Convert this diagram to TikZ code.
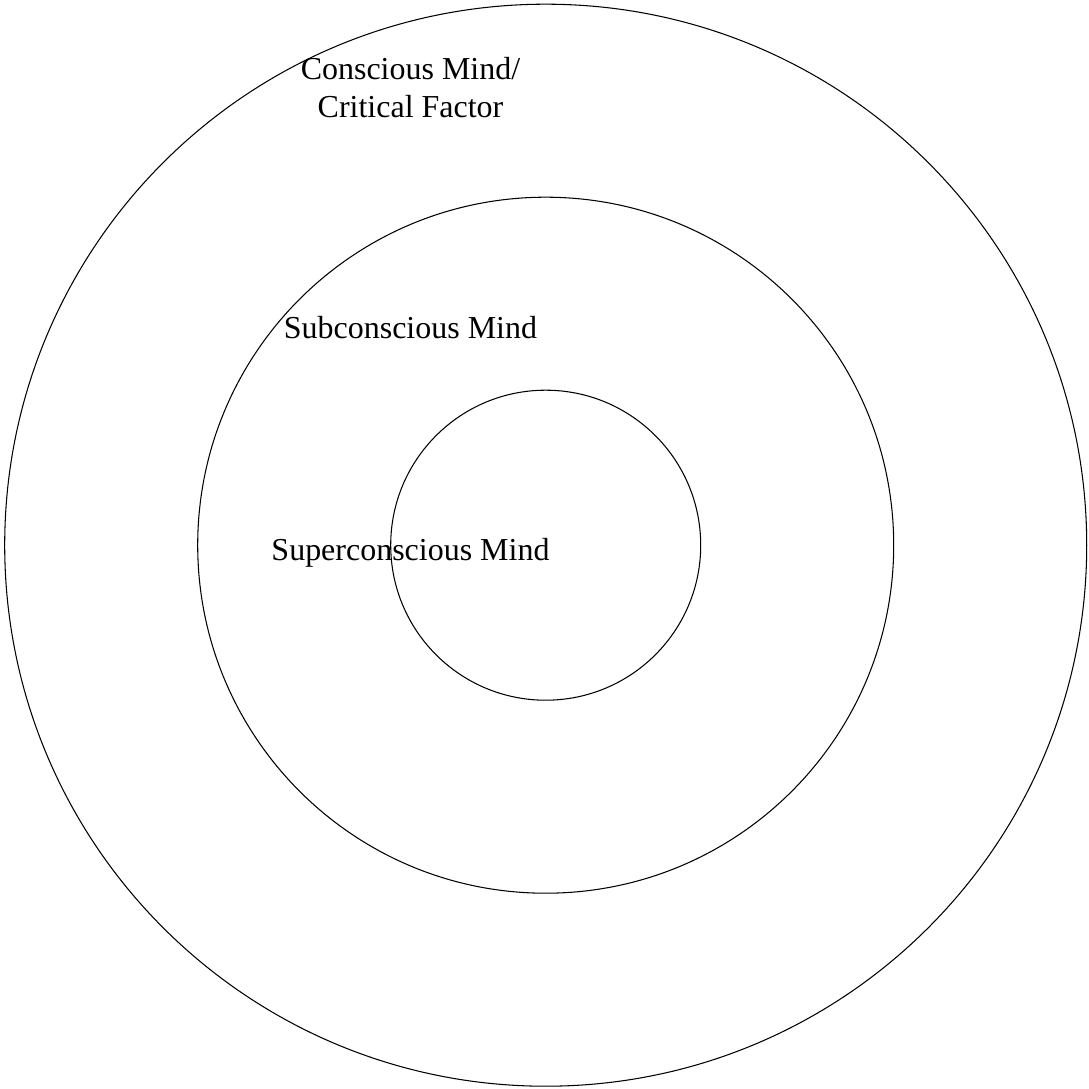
\documentclass[tikz,border=0pt]{standalone}
\usepackage{fontspec}
\setmainfont{Liberation Serif}
\begin{document}
\begin{tikzpicture}[line width=0.3pt, font=\fontsize{9.1}{11}\selectfont,
	lbl/.style={anchor=base, align=center, inner sep=0pt}]
		\useasboundingbox (0,0) rectangle (10.89,10.88);
		\def\cx{5.457}
		\def\cy{5.428}
		% rings
		\draw (\cx,\cy) circle (5.41);
		\draw (\cx,\cy) circle (3.48);
		\draw (\cx,\cy) circle (1.55);
		% labels
		\node[lbl] (conscious) at (4.105,9.70) {Conscious Mind/\\Critical Factor};
		\node[lbl] (subconscious) at (4.105,7.49) {Subconscious Mind};
		\node[lbl] (superconscious) at (4.105,5.28) {Superconscious Mind};
	\end{tikzpicture}
\end{document}
